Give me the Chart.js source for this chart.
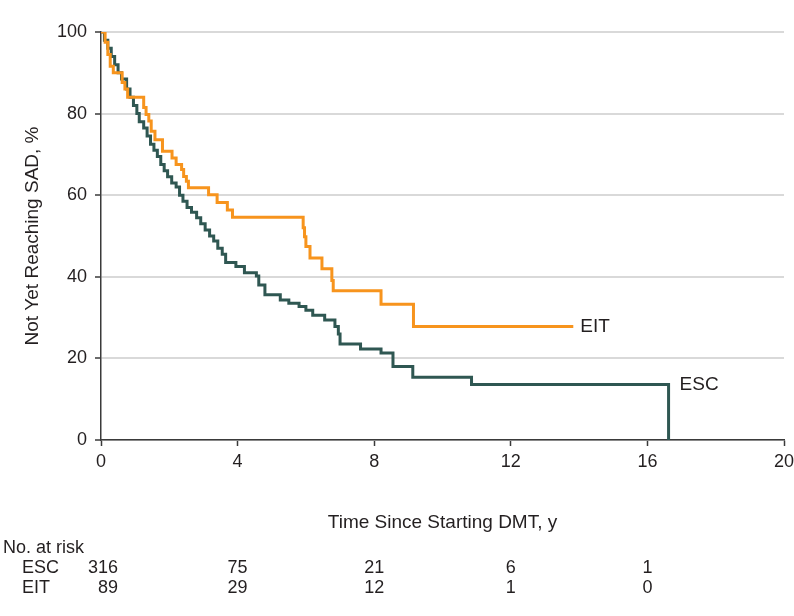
<!DOCTYPE html>
<html>
<head>
<meta charset="utf-8">
<script src="https://cdn.jsdelivr.net/npm/chart.js@4.4.1/dist/chart.umd.min.js"></script>
<style>
  html, body { margin: 0; padding: 0; background: #fff; }
  #wrap { width: 794px; height: 616px; }
</style>
</head>
<body>
<div id="wrap"><canvas id="km" width="794" height="616"></canvas></div>
<script>
// Kaplan-Meier data
const escTime = [0, 0.1, 0.2, 0.3, 0.4, 0.5, 0.6, 0.75, 0.85, 0.95, 1.05, 1.12, 1.25, 1.35, 1.45, 1.55, 1.65, 1.75, 1.85, 1.95,
  2.07, 2.2, 2.3, 2.4, 2.52, 2.65, 2.8, 2.92, 3.05, 3.18, 3.3, 3.42, 3.55, 3.65, 3.95, 4.2, 4.55, 4.62, 4.8,
  5.25, 5.5, 5.8, 6.0, 6.2, 6.55, 6.85, 6.95, 7.0, 7.6, 8.2, 8.55, 9.13, 10.85, 16.62];
const escSurv = [100, 98, 96, 94, 92, 90, 88.5, 86, 84, 82, 80, 78, 76.5, 74.5, 72.5, 71, 69.5, 67.5, 66, 64.5,
  63, 62, 60, 58.5, 57, 55.8, 54.5, 53, 51.5, 50, 48.8, 47, 45.5, 43.5, 42.5, 41, 40.2, 38, 35.6,
  34.3, 33.5, 32.7, 31.8, 30.6, 29.4, 27.8, 26, 23.5, 22.3, 21.3, 18, 15.4, 13.6, 0];

const eitTime = [0, 0.12, 0.2, 0.27, 0.36, 0.62, 0.7, 0.78, 1.25, 1.32, 1.4, 1.47, 1.58, 1.8, 2.08, 2.2, 2.36, 2.42, 2.5, 2.56,
  3.15, 3.4, 3.7, 3.85, 5.92, 5.96, 6.0, 6.12, 6.47, 6.76, 6.8, 8.2, 9.15, 13.83];
const eitSurv = [100, 97.5, 94.5, 91.6, 90, 87.6, 86, 84, 81.5, 79.8, 78.2, 75.7, 73.6, 70.8, 69.1, 67.5, 66.3, 64.6, 63.4, 61.8,
  60.1, 58.2, 56.4, 54.6, 52, 49.8, 47.4, 44.6, 42, 39.1, 36.6, 33.3, 27.8, 27.8];

// Number at risk table
const riskTimes = [0, 4, 8, 12, 16];
const escAtRisk = [316, 75, 21, 6, 1];
const eitAtRisk = [89, 29, 12, 1, 0];

const fontFamily = '"Liberation Sans", Arial, sans-serif';
const textColor = '#231f20';
const axisColor = '#3a3a3a';

function toPoints(times, values) {
  return times.map((t, i) => ({ x: t, y: values[i] }));
}

// Draws axis titles, curve labels and the number-at-risk table
const extraText = {
  id: 'extraText',
  afterDraw(chart) {
    const { ctx, scales: { x, y }, chartArea } = chart;
    ctx.save();
    ctx.fillStyle = textColor;
    ctx.font = '19px ' + fontFamily;
    ctx.textBaseline = 'middle';

    // curve labels
    ctx.textAlign = 'left';
    const eitLast = eitTime.length - 1;
    ctx.fillText('EIT', x.getPixelForValue(eitTime[eitLast]) + 7, y.getPixelForValue(eitSurv[eitLast]));
    const escLast = escTime.length - 1;
    ctx.fillText('ESC', x.getPixelForValue(escTime[escLast]) + 11, y.getPixelForValue(escSurv[escLast - 1]));

    // x axis title
    ctx.textAlign = 'center';
    ctx.fillText('Time Since Starting DMT, y', (chartArea.left + chartArea.right) / 2, 523);

    // y axis title
    ctx.save();
    ctx.translate(33, (chartArea.top + chartArea.bottom) / 2);
    ctx.rotate(-Math.PI / 2);
    ctx.fillText('Not Yet Reaching SAD, %', 0, 0);
    ctx.restore();

    // at-risk table
    ctx.font = '18px ' + fontFamily;
    ctx.textAlign = 'left';
    ctx.fillText('No. at risk', 3, 548);
    ctx.fillText('ESC', 22, 568);
    ctx.fillText('EIT', 22, 588);
    riskTimes.forEach((t, i) => {
      const px = x.getPixelForValue(t);
      if (i === 0) {
        ctx.textAlign = 'right';
        ctx.fillText(String(escAtRisk[i]), px + 17, 568);
        ctx.fillText(String(eitAtRisk[i]), px + 17, 588);
      } else {
        ctx.textAlign = 'center';
        ctx.fillText(String(escAtRisk[i]), px, 568);
        ctx.fillText(String(eitAtRisk[i]), px, 588);
      }
    });
    ctx.restore();
  }
};

new Chart(document.getElementById('km'), {
  type: 'line',
  data: {
    datasets: [
      {
        label: 'EIT',
        data: toPoints(eitTime, eitSurv),
        borderColor: '#f7941d',
        borderWidth: 3,
        pointRadius: 0,
        stepped: true,
        fill: false
      },
      {
        label: 'ESC',
        data: toPoints(escTime, escSurv),
        borderColor: '#2f5752',
        borderWidth: 3,
        pointRadius: 0,
        stepped: true,
        fill: false
      }
    ]
  },
  options: {
    responsive: false,
    animation: false,
    layout: { padding: { top: 32, right: 0, left: 0, bottom: 0 } },
    plugins: {
      legend: { display: false },
      tooltip: { enabled: false }
    },
    scales: {
      x: {
        type: 'linear',
        min: 0,
        max: 20,
        afterFit: (s) => { s.height = 176; s.paddingRight = 10; },
        border: { display: true, color: axisColor, width: 1.5 },
        grid: { drawOnChartArea: false, drawTicks: true, tickLength: 6, tickColor: axisColor, tickWidth: 1.5 },
        ticks: { stepSize: 4, padding: 5, color: textColor, font: { family: fontFamily, size: 18 } }
      },
      y: {
        min: 0,
        max: 100,
        afterFit: (s) => { s.width = 101; },
        border: { display: true, color: axisColor, width: 1.5 },
        grid: { color: '#d9d9d9', lineWidth: 2, drawTicks: true, tickLength: 6, tickColor: axisColor, tickWidth: 1.5 },
        ticks: { stepSize: 20, padding: 8, color: textColor, font: { family: fontFamily, size: 18 } }
      }
    }
  },
  plugins: [extraText]
});
</script>
</body>
</html>
